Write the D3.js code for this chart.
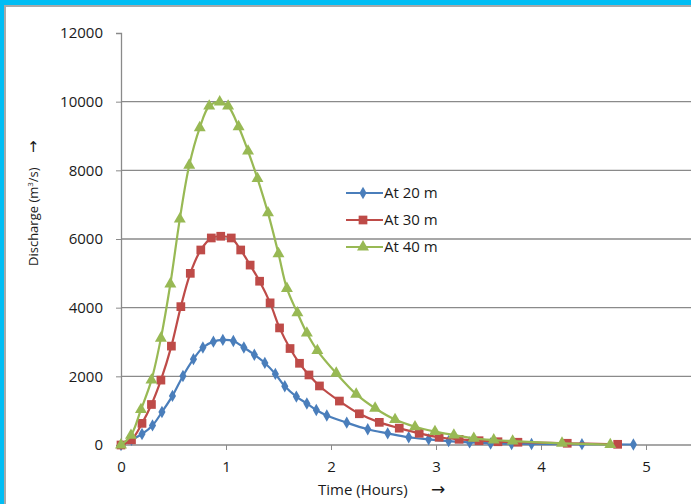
<!DOCTYPE html>
<html>
<head>
<meta charset="utf-8">
<script src="https://cdn.jsdelivr.net/npm/d3@7"></script>
<style>
  html, body { margin: 0; padding: 0; background: #00bdf4; overflow: hidden; }
  #frame { position: absolute; left: 4px; top: 5px; width: 700px; height: 510px;
           background: #fff; border-top: 2px solid #a9a9a9; border-left: 2px solid #a9a9a9; }
  svg { position: absolute; left: 0; top: 0; }
  text { font-family: "Open Sans", sans-serif; fill: #1a1a1a; }
</style>
</head>
<body>
<div id="frame"></div>
<svg id="chart" width="691" height="504"></svg>
<script>
// values
const timeAt20 = [0, 0.10, 0.20, 0.30, 0.39, 0.49, 0.59, 0.69, 0.78, 0.88, 0.97, 1.07, 1.17, 1.27, 1.37, 1.47, 1.56,
  1.67, 1.77, 1.86, 1.96, 2.15, 2.35, 2.54, 2.74, 2.93, 3.12, 3.32, 3.52, 3.72, 3.91, 4.39, 4.88];
const dischargeAt20 = [0, 150, 320, 570, 960, 1430, 2010, 2500, 2840, 3010, 3060, 3030, 2840, 2630, 2390, 2070, 1710,
  1410, 1210, 1020, 860, 650, 460, 340, 225, 165, 115, 75, 45, 30, 30, 25, 15];

const timeAt30 = [0, 0.10, 0.20, 0.29, 0.38, 0.48, 0.57, 0.66, 0.76, 0.86, 0.95, 1.05, 1.14, 1.23, 1.32, 1.42, 1.51,
  1.61, 1.70, 1.79, 1.89, 2.08, 2.27, 2.46, 2.65, 2.84, 3.03, 3.22, 3.41, 3.59, 3.78, 4.25, 4.73];
const dischargeAt30 = [0, 150, 630, 1180, 1890, 2880, 4030, 5000, 5680, 6030, 6080, 6030, 5680, 5240, 4770, 4140, 3410,
  2810, 2380, 2040, 1720, 1280, 910, 660, 490, 340, 225, 165, 125, 95, 80, 50, 20];

const timeAt40 = [0, 0.095, 0.19, 0.29, 0.38, 0.47, 0.56, 0.65, 0.75, 0.84, 0.94, 1.02, 1.12, 1.21, 1.30, 1.40, 1.50,
  1.58, 1.68, 1.77, 1.87, 2.05, 2.24, 2.42, 2.61, 2.80, 2.99, 3.17, 3.36, 3.55, 3.73, 4.20, 4.66];
const dischargeAt40 = [0, 280, 1030, 1890, 3110, 4690, 6580, 8150, 9240, 9870, 9990, 9870, 9270, 8560, 7760, 6760, 5570,
  4560, 3850, 3260, 2750, 2090, 1480, 1070, 740, 530, 390, 290, 195, 145, 115, 50, 10];

const seriesNames = ['At 20 m', 'At 30 m', 'At 40 m'];
const xTicks = [0, 1, 2, 3, 4, 5];
const yTicks = [0, 2000, 4000, 6000, 8000, 10000, 12000];

const seriesList = [
  { name: seriesNames[0], t: timeAt20, q: dischargeAt20, color: '#4a7ebb', marker: d3.symbolDiamond, size: 44 },
  { name: seriesNames[1], t: timeAt30, q: dischargeAt30, color: '#be4b48', marker: d3.symbolSquare, size: 76 },
  { name: seriesNames[2], t: timeAt40, q: dischargeAt40, color: '#98b954', marker: d3.symbolTriangle, size: 62 }
];

const svg = d3.select('#chart');

const x = d3.scaleLinear().domain([0, 6]).range([121, 751]);
const y = d3.scaleLinear().domain([0, 12000]).range([445, 33]);

// gridlines
svg.append('g')
  .selectAll('line')
  .data(yTicks.filter(v => v > 0 && v < 12000))
  .join('line')
  .attr('x1', x(0)).attr('x2', 700)
  .attr('y1', d => y(d)).attr('y2', d => y(d))
  .attr('stroke', '#8a8a8a').attr('stroke-width', 1.3);

// axes
const yAxis = svg.append('g')
  .attr('transform', `translate(${x(0)},0)`)
  .call(d3.axisLeft(y).tickValues(yTicks).tickSize(5).tickPadding(13).tickFormat(d3.format('d')));
const xAxis = svg.append('g')
  .attr('transform', `translate(0,${y(0)})`)
  .call(d3.axisBottom(x).tickValues(xTicks).tickSize(5).tickPadding(11).tickFormat(d3.format('d')));

[xAxis, yAxis].forEach(a => {
  a.select('.domain').attr('stroke', '#8a8a8a').attr('stroke-width', 1.3);
  a.selectAll('.tick line').attr('stroke', '#8a8a8a');
  a.selectAll('.tick text').style('font-size', '15px').style('font-family', '"Open Sans", sans-serif').style('fill', '#1a1a1a');
});
yAxis.select('.tick:first-of-type line').remove();
xAxis.select('.domain').attr('d', `M${x(0)},0H700`);

// series
const line = d3.line().curve(d3.curveCatmullRom.alpha(0.5));
seriesList.forEach(s => {
  const pts = s.t.map((t, i) => [x(t), y(s.q[i])]);
  svg.append('path')
    .attr('d', line(pts))
    .attr('fill', 'none')
    .attr('stroke', s.color)
    .attr('stroke-width', 2.2);
  svg.append('g')
    .selectAll('path')
    .data(pts)
    .join('path')
    .attr('transform', d => `translate(${d[0]},${d[1]})`)
    .attr('d', d3.symbol(s.marker, s.size))
    .attr('fill', s.color);
});

// legend
const legend = svg.append('g');
seriesList.forEach((s, i) => {
  const ly = 193 + i * 27;
  legend.append('line')
    .attr('x1', 346).attr('x2', 383).attr('y1', ly).attr('y2', ly)
    .attr('stroke', s.color).attr('stroke-width', 2);
  legend.append('path')
    .attr('transform', `translate(363,${ly})`)
    .attr('d', d3.symbol(s.marker, s.size))
    .attr('fill', s.color);
  legend.append('text')
    .attr('x', 384).attr('y', ly + 5)
    .style('font-size', '15px')
    .text(s.name);
});

// axis titles
svg.append('text')
  .attr('x', 318).attr('y', 495)
  .style('font-size', '15px')
  .text('Time (Hours)');
svg.append('text')
  .attr('x', 431).attr('y', 495)
  .style('font-family', '"DejaVu Sans", sans-serif')
  .style('font-size', '17px')
  .text('→');

const yTitle = svg.append('text')
  .attr('transform', 'translate(38,266) rotate(-90)')
  .style('font-size', '13px');
yTitle.append('tspan').text('Discharge (m');
yTitle.append('tspan').attr('dy', -5).style('font-size', '8px').text('3');
yTitle.append('tspan').attr('dy', 5).text('/s)');
svg.append('text')
  .attr('transform', 'translate(38,153) rotate(-90)')
  .style('font-family', '"DejaVu Sans", sans-serif')
  .style('font-size', '15px')
  .text('→');
</script>
</body>
</html>
